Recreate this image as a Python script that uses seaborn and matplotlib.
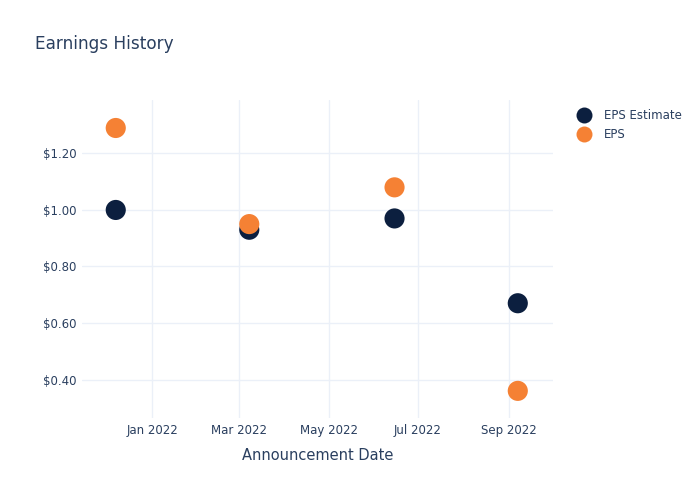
import matplotlib
matplotlib.use("Agg")
import matplotlib.pyplot as plt
import matplotlib.dates as mdates
import seaborn as sns
import pandas as pd

dates = ["2021-12-07", "2022-03-08", "2022-06-15", "2022-09-07"]
eps_estimate = [1.00, 0.93, 0.97, 0.67]
eps_actual = [1.29, 0.95, 1.08, 0.36]
y_ticks = [0.40, 0.60, 0.80, 1.00, 1.20]
x_ticks = ["2022-01-01", "2022-03-01", "2022-05-01", "2022-07-01", "2022-09-01"]

df = pd.DataFrame({
    "date": pd.to_datetime(dates * 2),
    "value": eps_estimate + eps_actual,
    "series": ["EPS Estimate"] * len(dates) + ["EPS"] * len(dates),
})

sns.set_style("white")
plt.rcParams['font.family'] = ['DejaVu Sans']
text_color = "#2a3f5f"
grid_color = "#ebf0f8"

fig = plt.figure(figsize=(7, 5), dpi=100)
ax = fig.add_axes([82/700, 1 - 418/500, (553-82)/700, (418-100)/500])

sns.scatterplot(data=df, x="date", y="value", hue="series",
                palette={"EPS Estimate": "#0c1f3f", "EPS": "#f58134"},
                s=210, edgecolor="none", ax=ax, zorder=3)

ax.set_xlim(pd.Timestamp("2021-11-14"), pd.Timestamp("2022-10-01"))
ax.set_ylim(0.264, 1.389)
ax.set_yticks(y_ticks)
ax.set_yticklabels([f"${v:.2f}" for v in y_ticks])
ax.set_xticks(pd.to_datetime(x_ticks))
ax.xaxis.set_major_formatter(mdates.DateFormatter("%b %Y"))

ax.grid(True, color=grid_color, linewidth=1)
ax.set_axisbelow(True)
for sp in ax.spines.values():
    sp.set_visible(False)
ax.tick_params(axis="both", colors=text_color, labelsize=8.5, length=0)
ax.tick_params(axis="x", pad=4)
ax.tick_params(axis="y", pad=4)

ax.set_xlabel("Announcement Date", color=text_color, fontsize=10.5, labelpad=8)
ax.set_ylabel("")

fig.text(35/700, 1 - 44/500, "Earnings History", color=text_color, fontsize=12.2, va="center")

leg = ax.legend(loc="upper left", bbox_to_anchor=(1.03, 0.985), frameon=False,
                fontsize=8.5, labelcolor=text_color, handletextpad=0.7,
                borderaxespad=0, labelspacing=0.5, markerscale=1.0)
for h in leg.legend_handles:
    h.set_markersize(11.5)

fig.savefig("out.png", dpi=100)
